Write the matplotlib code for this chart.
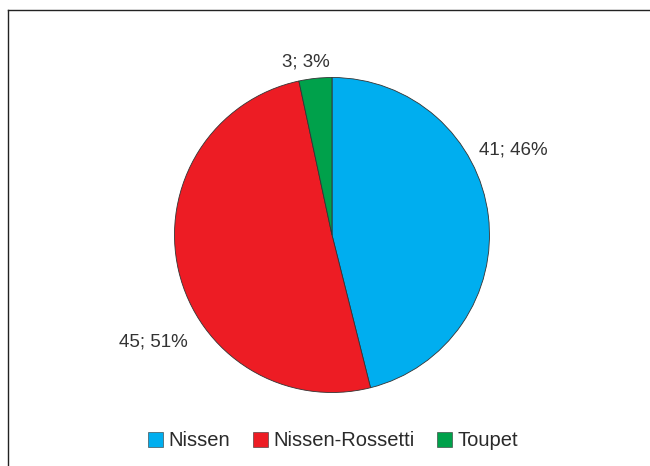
import numpy as np
import matplotlib.pyplot as plt
from matplotlib.lines import Line2D

plt.rcParams['font.family'] = ['Liberation Sans', 'DejaVu Sans']

# procedures and patient counts
labels = ['Nissen', 'Nissen-Rossetti', 'Toupet']
counts = [41, 45, 3]
colors = ['#00AEEF', '#ED1C24', '#00A14B']
# label placement (angle in degrees, distance in radii)
label_pos = [(25.0, 1.27), (211.0, 1.32), (98.5, 1.11)]

fig = plt.figure(figsize=(6.5, 4.66), dpi=100)
ax = fig.add_axes([17/650, 10.5/466, 630/650, 441/466])

wedges, _ = ax.pie(counts, colors=colors, startangle=90, counterclock=False,
                   radius=1.0, wedgeprops=dict(edgecolor='#333333', linewidth=0.6))
ax.set_xlim(-2, 2)
ax.set_ylim(-1.4, 1.4)
ax.set_aspect('auto')
ax.axis('off')

total = sum(counts)
for n, (ang, d) in zip(counts, label_pos):
    pct = round(100 * n / total)
    a = np.deg2rad(ang)
    ax.text(d * np.cos(a), d * np.sin(a), f'{n}; {pct}%', ha='center', va='center',
            fontsize=13.5, color='#333333')

leg = ax.legend(wedges, labels, loc='center', bbox_to_anchor=(333/650, 25/466),
                bbox_transform=fig.transFigure, ncol=3, frameon=False, fontsize=14.5,
                handlelength=0.75, handleheight=0.75, handletextpad=0.25,
                columnspacing=1.15, labelcolor='#2a2a2a')
for h in leg.legend_handles:
    h.set_linewidth(0.4)

# outer frame (top and left edges only, the rest runs off the canvas)
top = 1 - 10/466
left = 8/650
fig.add_artist(Line2D([left, 1.0], [top, top], transform=fig.transFigure,
                      color='#222222', linewidth=1.0))
fig.add_artist(Line2D([left, left], [0.0, top], transform=fig.transFigure,
                      color='#222222', linewidth=1.0))

plt.savefig('out.png', dpi=100)
